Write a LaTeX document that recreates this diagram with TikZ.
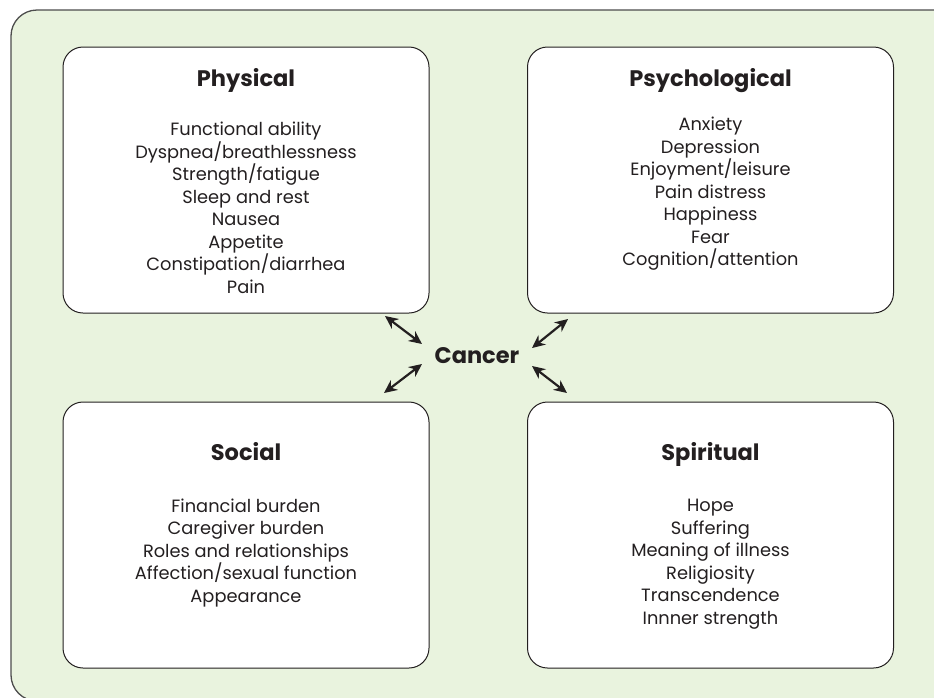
\documentclass[tikz,border=0pt]{standalone}
\usepackage{fontspec}
\setmainfont{Poppins}
\usepackage{tikz}
\usetikzlibrary{arrows.meta,positioning}
\definecolor{bgGreen}{HTML}{E9F3DE}
\definecolor{inkDark}{HTML}{231F20}
\definecolor{frameGray}{HTML}{4D4D4D}
\tikzset{%
  DomainBox/.style={draw=inkDark,fill=white,line width=1pt,rounded corners=20pt,
    minimum width=366pt,minimum height=266pt},
  DomainTitle/.style={anchor=base,font=\fontsize{22.5}{26}\selectfont\bfseries,text=inkDark},
  DomainItems/.style={align=center,font=\fontsize{17.8}{22.5}\selectfont,text=inkDark},
  LinkArrow/.style={{Stealth[length=13pt,width=12pt]}-{Stealth[length=13pt,width=12pt]},
    line width=2.2pt,draw=inkDark}
}

\begin{document}
\begin{tikzpicture}[x=1pt,y=-1pt]
  \useasboundingbox (0,0) rectangle (934,697);
  % green frame, running off the right and bottom edges
  \begin{scope}
    \clip (0,0) rectangle (934,697);
    \draw[frameGray,fill=bgGreen,line width=1.3pt,rounded corners=26pt]
      (11,10) rectangle (975,701);
  \end{scope}
  % the four domains
  \node[DomainBox] (physical) at (246,180) {};
  \node[DomainBox] (psych) at (710.5,180) {};
  \node[DomainBox] (social) at (246,535) {};
  \node[DomainBox] (spirit) at (710.5,535) {};
  \node[DomainTitle] (physicalT) at (246,86) {Physical};
  \node[DomainTitle] (psychT) at (710.5,86) {Psychological};
  \node[DomainTitle] (socialT) at (246,460) {Social};
  \node[DomainTitle] (spiritT) at (710.5,460) {Spiritual};
  \node[DomainItems] (physicalL) at (246,208) {Functional ability\\Dyspnea/breathlessness\\
    Strength/fatigue\\Sleep and rest\\Nausea\\Appetite\\Constipation/diarrhea\\Pain};
  \node[DomainItems] (psychL) at (710.5,194) {Anxiety\\Depression\\Enjoyment/leisure\\
    Pain distress\\Happiness\\Fear\\Cognition/attention};
  \node[DomainItems] (socialL) at (246,553) {Financial burden\\Caregiver burden\\
    Roles and relationships\\Affection/sexual function\\Appearance};
  \node[DomainItems] (spiritL) at (710.5,564) {Hope\\Suffering\\Meaning of illness\\
    Religiosity\\Transcendence\\Innner strength};
  % centre and links
  \node[DomainTitle] (cancer) at (477,363) {Cancer};
  \coordinate (physicalEnd) at (385,316);
  \coordinate (cancerNW) at (422,344);
  \coordinate (socialEnd) at (384,393);
  \coordinate (cancerSW) at (422,364);
  \coordinate (psychEnd) at (568,319);
  \coordinate (cancerNE) at (532,348);
  \coordinate (spiritEnd) at (567,393);
  \coordinate (cancerSE) at (532,366);
  \draw[LinkArrow] (physicalEnd) -- (cancerNW);
  \draw[LinkArrow] (socialEnd) -- (cancerSW);
  \draw[LinkArrow] (cancerNE) -- (psychEnd);
  \draw[LinkArrow] (cancerSE) -- (spiritEnd);
\end{tikzpicture}
\end{document}
